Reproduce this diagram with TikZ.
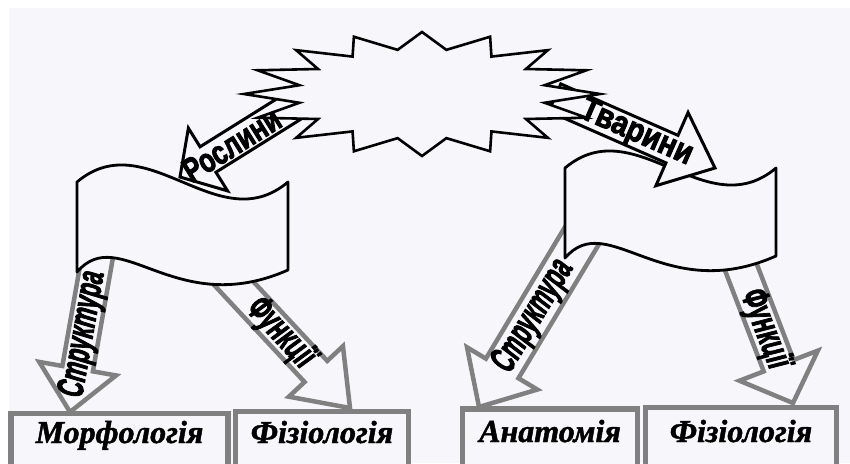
\documentclass[tikz,border=0pt]{standalone}
\usepackage{fontspec}
\setmainfont{Liberation Serif}
\setsansfont{Liberation Sans}
\newfontfamily\hvsans[FakeBold=3]{Liberation Sans}
\newfontfamily\hvserif[FakeBold=1.5]{Liberation Serif}
\definecolor{bgc}{RGB}{247,246,250}
\definecolor{gry}{RGB}{128,128,128}
\begin{document}
\begin{tikzpicture}[x=1pt,y=-1pt,
  blk/.style={draw=black, line width=3pt, fill=bgc, line join=miter},
  gar/.style={draw=gry, line width=4.5pt, fill=bgc, line join=miter},
  flagst/.style={draw=black, line width=2.8pt, fill=bgc, line join=round},
  starst/.style={draw=black, line width=2.6pt, fill=bgc, line join=miter},
  boxst/.style={draw=gry, line width=5.5pt, fill=bgc},
  boxlbl/.style={font=\fontsize{32}{32}\selectfont\hvserif\bfseries\itshape, anchor=base, inner sep=0pt},
  blklbl/.style={font=\fontsize{26}{26}\selectfont\hvsans\bfseries, inner sep=0pt},
  grlbl/.style={font=\fontsize{25}{25}\selectfont\hvsans\bfseries\itshape, inner sep=0pt},
  fRosl/.style={shift={(180,177)},rotate=32},
  fTvar/.style={shift={(715,168)},rotate=156.3},
  fSL/.style={shift={(70,412)},rotate=80},
  fFL/.style={shift={(350,408)},rotate=133},
  fSR/.style={shift={(479,407)},rotate=59},
  fFR/.style={shift={(793,403)},rotate=111}]
\useasboundingbox (0,0) rectangle (850,463);
\clip (0,0) rectangle (850,463);
\fill[white] (0,0) rectangle (850,463);
\fill[bgc] (9,8) rectangle (850,463);

% grey block arrows
\begin{scope}[fSL]
  \draw[gar] (0,0) -- (44,-39) -- (44,-15.5) -- (180,-15.5) -- (180,15.5) -- (44,15.5) -- (44,39) -- cycle;
\end{scope}
\begin{scope}[fFL]
  \draw[gar] (0,0) -- (50,-37) -- (50,-15.5) -- (195,-15.5) -- (195,15.5) -- (50,15.5) -- (50,37) -- cycle;
\end{scope}
\begin{scope}[fSR]
  \draw[gar] (0,0) -- (45,-41) -- (45,-19) -- (215,-19) -- (215,19) -- (45,19) -- (45,41) -- cycle;
\end{scope}
\begin{scope}[fFR]
  \draw[gar] (0,0) -- (40,-42) -- (40,-16) -- (170,-16) -- (170,16) -- (40,16) -- (40,42) -- cycle;
\end{scope}

% boxes
\draw[boxst] (11,413.5) rectangle (228,480);
\draw[boxst] (235.5,411.5) rectangle (408.5,480);
\draw[boxst] (462.5,409) rectangle (637.5,480);
\draw[boxst] (645.5,407.5) rectangle (836.5,480);

% flags
\draw[flagst] (77,182) .. controls (147,123) and (218,241) .. (288,182) -- (288,270)
   .. controls (175,320) and (120,222) .. (77,272) -- cycle;
\begin{scope}[shift={(488,-14)}]
\draw[flagst] (77,182) .. controls (147,123) and (218,241) .. (288,182) -- (288,270)
   .. controls (175,320) and (120,222) .. (77,272) -- cycle;
\end{scope}

% black block arrows
\begin{scope}[fRosl]
  \draw[blk] (0,0) -- (33,-37) -- (33,-15) -- (150,-15) -- (150,15) -- (33,15) -- (33,37) -- cycle;
\end{scope}
\begin{scope}[fTvar]
  \draw[blk] (0,0) -- (47,-40) -- (47,-15) -- (175,-15) -- (175,15) -- (47,15) -- (47,40) -- cycle;
\end{scope}

% explosion
\draw[starst] (422,32) \foreach \a in {90,112.5,...,427.5} {
   -- ({422+125*cos(\a+11.25)},{94-45*sin(\a+11.25)})
   -- ({422+178*cos(\a+22.5)},{94-62*sin(\a+22.5)}) } -- cycle;

% labels
\begin{scope}[fRosl]
  \node[blklbl, rotate=32] (rosl) at (61,0) {\scalebox{0.98}[1.3]{Рослини}};
\end{scope}
\begin{scope}[fTvar]
  \node[blklbl, rotate=-23.7] (tvar) at (86,0) {\scalebox{1.1}[1.3]{Тварини}};
\end{scope}
\begin{scope}[fSL]
  \node[grlbl, rotate=80] (strL) at (79,0) {\scalebox{0.87}[1.5]{Структура}};
\end{scope}
\begin{scope}[fFL]
  \node[grlbl, rotate=-47] (funL) at (102,0) {\scalebox{0.9}[1.5]{Функції}};
\end{scope}
\begin{scope}[fSR]
  \node[grlbl, rotate=59] (strR) at (106,0) {\scalebox{0.85}[1.5]{Структура}};
\end{scope}
\begin{scope}[fFR]
  \node[grlbl, rotate=-69] (funR) at (79,0) {\scalebox{0.9}[1.5]{Функції}};
\end{scope}

\node[boxlbl] (morf) at (119.5,443) {Морфологія};
\node[boxlbl] (fizL) at (322,443) {Фізіологія};
\node[boxlbl] (anat) at (550,442) {Анатомія};
\node[boxlbl] (fizR) at (741,442) {Фізіологія};
\end{tikzpicture}
\end{document}
